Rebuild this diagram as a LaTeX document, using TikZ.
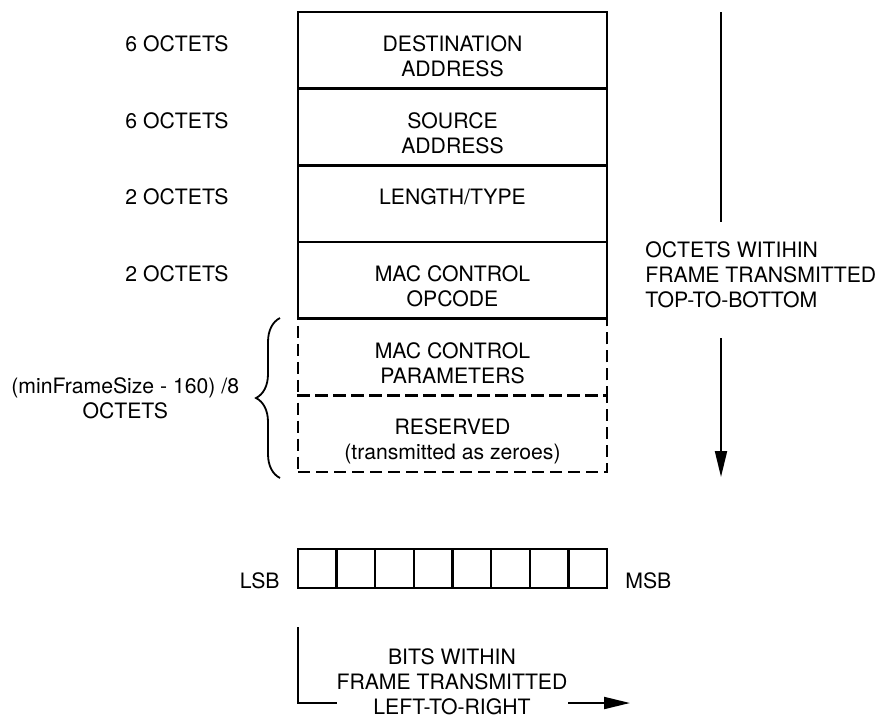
\documentclass[tikz,border=0pt]{standalone}
\usepackage{fontspec}
\setmainfont{TeX Gyre Heros}
\usetikzlibrary{arrows.meta,positioning,decorations.pathreplacing}
\newcommand{\lblfont}{\fontsize{10.6}{12.5}\selectfont}

\begin{document}
\begin{tikzpicture}[x=0.5pt, y=-0.5pt,
  field/.style={draw, line width=1.2pt, outer sep=0pt, minimum width=154.5pt, minimum height=38.33pt, inner sep=0pt},
  optfield/.style={field, dash pattern=on 6pt off 3pt},
  fieldtxt/.style={inner sep=0pt, align=center, font=\lblfont},
  sizetxt/.style={inner sep=0pt, align=center, font=\lblfont},
  bitcell/.style={draw, line width=1.2pt, outer sep=0pt, minimum width=19.3125pt, minimum height=19.5pt, inner sep=0pt},
  flow/.style={line width=1pt},
  flowarrow/.style={flow, -{Triangle[length=13pt, width=6pt]}}
]
\useasboundingbox (0,0) rectangle (879,719);

% frame fields, top to bottom
\node[field, anchor=north] (dest) at (452.5,12) {};
\node[field, below=0pt of dest] (src) {};
\node[field, below=0pt of src] (lentype) {};
\node[field, below=0pt of lentype] (opcode) {};
\node[optfield, below=0pt of opcode] (params) {};
\node[optfield, below=0pt of params] (reserved) {};

\node[fieldtxt, below=11.7pt of dest.north] (desttxt) {DESTINATION\\ADDRESS};
\node[fieldtxt, below=11.7pt of src.north] (srctxt) {SOURCE\\ADDRESS};
\node[fieldtxt, below=11.7pt of lentype.north] (lentypetxt) {LENGTH/TYPE};
\node[fieldtxt, below=11.7pt of opcode.north] (opcodetxt) {MAC CONTROL\\OPCODE};
\node[fieldtxt, below=11.7pt of params.north] (paramstxt) {MAC CONTROL\\PARAMETERS};
\node[fieldtxt, below=11.7pt of reserved.north] (reservedtxt) {RESERVED\\(transmitted as zeroes)};

% octet counts
\node[sizetxt, below left=11.7pt and 34.5pt of dest.north west] (destsize) {6 OCTETS};
\node[sizetxt, below left=11.7pt and 34.5pt of src.north west] (srcsize) {6 OCTETS};
\node[sizetxt, below left=11.7pt and 34.5pt of lentype.north west] (lentypesize) {2 OCTETS};
\node[sizetxt, below left=11.7pt and 34.5pt of opcode.north west] (opcodesize) {2 OCTETS};

% brace over the variable part
\coordinate (brtop) at (280,318);
\coordinate (brbot) at (280,478);
\draw[decorate, decoration={brace, amplitude=12pt}, line width=0.9pt] (brbot) -- (brtop)
  node[sizetxt, midway, left=20pt] (varsize) {(minFrameSize - 160) /8\\OCTETS};

% octet order
\coordinate (otop) at (721,12);
\coordinate (ogapa) at (721,222);
\coordinate (ogapb) at (721,338);
\coordinate (oend) at (721,477);
\node[fieldtxt, align=left, anchor=west] (octtxt) at (645,275) {OCTETS WITIHIN\\FRAME TRANSMITTED\\TOP-TO-BOTTOM};
\draw[flow] (otop) -- (ogapa);
\draw[flowarrow] (ogapb) -- (oend);

% one octet, bit cells
\foreach \b in {1,...,8}
  \node[bitcell, anchor=north west] (bit\b) at ({298+38.625*(\b-1)},549) {};
\node[fieldtxt, anchor=base east, xshift=-9pt] (lsb) at (bit1.south west) {LSB};
\node[fieldtxt, anchor=base west, xshift=9pt] (msb) at (bit8.south east) {MSB};

% bit order
\coordinate (bstart) at (298,627);
\coordinate (bcorner) at (298,703);
\coordinate (bend) at (337,703);
\coordinate (barra) at (568,703);
\coordinate (barrb) at (630,703);
\node[fieldtxt] (bittxt) at (452,682) {BITS WITHIN\\FRAME TRANSMITTED\\LEFT-TO-RIGHT};
\draw[flow] (bstart) -- (bcorner) -- (bend);
\draw[flowarrow] (barra) -- (barrb);
\end{tikzpicture}
\end{document}
